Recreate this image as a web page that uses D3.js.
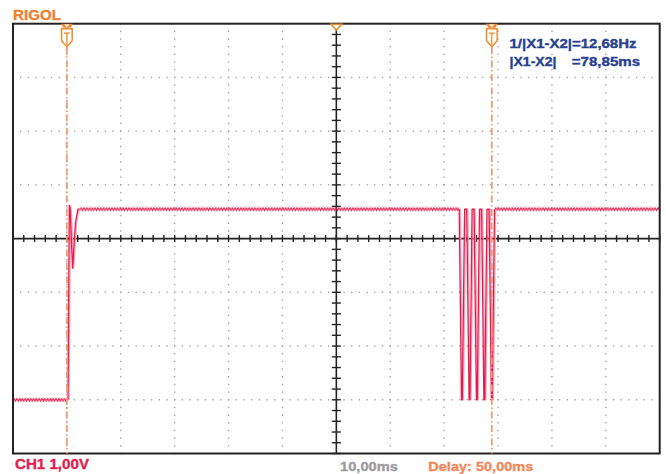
<!DOCTYPE html>
<html>
<head>
<meta charset="utf-8">
<script src="https://cdn.jsdelivr.net/npm/d3@7"></script>
<style>
  body { margin: 0; background: #fff; }
  svg { display: block; font-family: Arial, "Liberation Sans", sans-serif; font-weight: bold; }
</style>
</head>
<body>
<svg id="scope" width="666" height="474"></svg>
<script>
// horizontal: ms, trigger (X1) at 0, 10 ms/div
const timeRange = [-10, 110]
const msPerDiv = 10
// vertical: volts, 1 V/div, channel offset +3 V
const voltRange = [-1, 7]
const voltPerDiv = 1

// flat parts of the trace (drawn with the ripple)
const flatStart = [-10, 2.3, 79.35]
const flatEnd = [0.2, 72.80, 110]
const flatLevel = [0, 3.55, 3.55]

// rising edge with ringing
const ringT = [0.2, 0.45, 0.6, 1.05, 1.6, 2.05, 2.3]
const ringV = [0, 3.62, 3.55, 2.45, 3.3, 3.55, 3.55]

// burst of pulses before X2
const burstT = [72.80, 73.22, 73.37, 73.80, 74.19, 74.63, 74.78, 75.19,
  75.56, 75.99, 76.14, 76.56, 76.95, 77.38, 77.53, 77.95,
  78.34, 78.77, 78.92, 79.35]
const burstV = [3.55, 0, 0, 3.55, 3.55, 0, 0, 3.55,
  3.55, 0, 0, 3.55, 3.55, 0, 0, 3.55,
  3.55, 0, 0, 3.55]

// cursors and trigger
const cursorTimes = [0, 78.85]
const triggerTime = 50

// texts
const brandLabel = "RIGOL"
const cursorLabels = ["1/|X1-X2|=12,68Hz", "|X1-X2|", "=78,85ms"]
const channelLabel = "CH1 1,00V"
const timebaseLabel = "10,00ms"
const delayLabel = "Delay: 50,00ms"

const traceColor = "#e5194c"
const ghostColor = "#f4a3b8"
const cursorColor = "#f0892e"

const svg = d3.select("#scope")

const plotL = 13, plotR = 659.7, plotT = 23.7, plotB = 453.5

const x = d3.scaleLinear().domain(timeRange).range([plotL, plotR])
const y = d3.scaleLinear().domain(voltRange).range([plotB, plotT])

const divW = x(msPerDiv) - x(0)
const divH = y(0) - y(voltPerDiv)
const xMid = x((timeRange[0] + timeRange[1]) / 2)
const yMid = y((voltRange[0] + voltRange[1]) / 2)

// dotted grid
const grid = svg.append("g").attr("fill", "#a4a4a4")
const xLines = d3.range(timeRange[0] + msPerDiv, timeRange[1], msPerDiv).map(x)
const yLines = d3.range(voltRange[0] + voltPerDiv, voltRange[1], voltPerDiv).map(y)
const dotsX = d3.range(plotL, plotR, divW / 7)
const dotsY = d3.range(plotT, plotB, divH / 7)
xLines.filter(px => Math.abs(px - xMid) > 1).forEach(px => {
  grid.selectAll(null).data(dotsY).join("rect")
    .attr("x", px - 0.7).attr("y", d => d - 0.7)
    .attr("width", 1.4).attr("height", 1.4)
})
yLines.filter(py => Math.abs(py - yMid) > 1).forEach(py => {
  grid.selectAll(null).data(dotsX).join("rect")
    .attr("x", d => d - 0.7).attr("y", py - 0.7)
    .attr("width", 1.4).attr("height", 1.4)
})

// center axes with small ticks
const axes = svg.append("g").attr("stroke", "#222")
axes.append("line").attr("x1", plotL).attr("x2", plotR).attr("y1", yMid).attr("y2", yMid).attr("stroke-width", 1.6)
axes.append("line").attr("x1", xMid).attr("x2", xMid).attr("y1", plotT).attr("y2", plotB).attr("stroke-width", 1.6)
axes.selectAll(null).data(d3.range(timeRange[0], timeRange[1] + 0.01, msPerDiv / 5)).join("line")
  .attr("x1", d => x(d)).attr("x2", d => x(d))
  .attr("y1", yMid - 3.5).attr("y2", yMid + 3.5).attr("stroke-width", 1.4)
axes.selectAll(null).data(d3.range(voltRange[0], voltRange[1] + 0.01, voltPerDiv / 5)).join("line")
  .attr("y1", d => y(d)).attr("y2", d => y(d))
  .attr("x1", xMid - 4.5).attr("x2", xMid + 4.5).attr("stroke-width", 1.4)

// ripple pattern for the flat levels
const defs = svg.append("defs")
const rippleH = 5, rippleW = 2.8
flatLevel.forEach((v, i) => {
  const p = defs.append("pattern")
    .attr("id", "ripple" + i)
    .attr("patternUnits", "userSpaceOnUse")
    .attr("x", 0).attr("y", y(v) - rippleH / 2)
    .attr("width", rippleW).attr("height", rippleH)
  p.append("path")
    .attr("d", `M0,1 L${rippleW / 2},${rippleH - 1} L${rippleW},1`)
    .attr("fill", "none").attr("stroke", traceColor).attr("stroke-width", 1.1)
})

const trace = svg.append("g")
trace.selectAll(null).data(flatLevel).join("rect")
  .attr("x", (d, i) => x(flatStart[i]))
  .attr("width", (d, i) => x(flatEnd[i]) - x(flatStart[i]))
  .attr("y", d => y(d) - rippleH / 2)
  .attr("height", rippleH)
  .attr("fill", (d, i) => `url(#ripple${i})`)

const line = d3.line().x(d => x(d[0])).y(d => y(d[1]))
const edges = [d3.zip(ringT, ringV), d3.zip(burstT, burstV)]

// faint persistence copy, shifted by about a pixel
trace.append("g").attr("transform", "translate(1.2,0)")
  .selectAll(null).data(edges).join("path")
  .attr("d", line)
  .attr("fill", "none")
  .attr("stroke", ghostColor)
  .attr("stroke-width", 1.2)
  .attr("stroke-linejoin", "round")

trace.selectAll(null).data(edges).join("path")
  .attr("d", line)
  .attr("fill", "none")
  .attr("stroke", traceColor)
  .attr("stroke-width", 1.3)
  .attr("stroke-linejoin", "round")

// frame
svg.append("rect")
  .attr("x", plotL).attr("y", plotT)
  .attr("width", plotR - plotL).attr("height", plotB - plotT)
  .attr("fill", "none").attr("stroke", "#222").attr("stroke-width", 2)

// cursors
const cursors = svg.append("g")
cursorTimes.forEach(t => {
  const cx = x(t)
  cursors.append("line")
    .attr("x1", cx).attr("x2", cx).attr("y1", 47).attr("y2", plotB)
    .attr("stroke", "#f29870").attr("stroke-width", 1.7)
    .attr("stroke-dasharray", "7,2.5,1.5,2.5")
  cursors.append("path")
    .attr("d", `M${cx - 6},${plotT} L${cx + 6},${plotT} L${cx + 3.5},${plotT + 4} L${cx - 3.5},${plotT + 4}Z`)
    .attr("fill", cursorColor)
  cursors.append("path")
    .attr("d", `M${cx - 2.8},${plotT + 0.8} L${cx + 2.8},${plotT + 0.8} L${cx},${plotT + 3.3}Z`)
    .attr("fill", "#fff")
  cursors.append("path")
    .attr("d", `M${cx - 5.3},${plotT + 5} L${cx + 5.3},${plotT + 5} L${cx + 5.3},${plotT + 17} L${cx},${plotT + 23} L${cx - 5.3},${plotT + 17}Z`)
    .attr("fill", "#fff").attr("stroke", cursorColor).attr("stroke-width", 1.5)
  cursors.append("path")
    .attr("d", `M${cx - 3},${plotT + 9.5} L${cx + 3},${plotT + 9.5} M${cx},${plotT + 9.5} L${cx},${plotT + 21}`)
    .attr("stroke", cursorColor).attr("stroke-width", 1.3)
})

// trigger position marker
const tx = x(triggerTime)
svg.append("path")
  .attr("d", `M${tx - 5.3},${plotT + 0.5} L${tx + 5.3},${plotT + 0.5} L${tx},${plotT + 6.3}Z`)
  .attr("fill", "#fff").attr("stroke", cursorColor).attr("stroke-width", 1.6)

// texts
const addText = (str, px, py, size, color, len) =>
  svg.append("text")
    .attr("x", px).attr("y", py)
    .attr("font-size", size).attr("fill", color)
    .attr("stroke", color).attr("stroke-width", 0.35)
    .attr("textLength", len).attr("lengthAdjust", "spacingAndGlyphs")
    .text(str)

addText(brandLabel, 13, 20, 15, "#ef822d", 48)
addText(cursorLabels[0], 509.5, 48.3, 13, "#27408f", 127)
addText(cursorLabels[1], 509.5, 66, 13, "#27408f", 47)
addText(cursorLabels[2], 571.7, 66, 13, "#27408f", 68.5)
addText(channelLabel, 15, 469.3, 14.5, "#e3204c", 74)
addText(timebaseLabel, 340, 471, 13.5, "#9b9b9b", 58)
addText(delayLabel, 428.3, 471, 13.5, "#f2875a", 105)
</script>
</body>
</html>
